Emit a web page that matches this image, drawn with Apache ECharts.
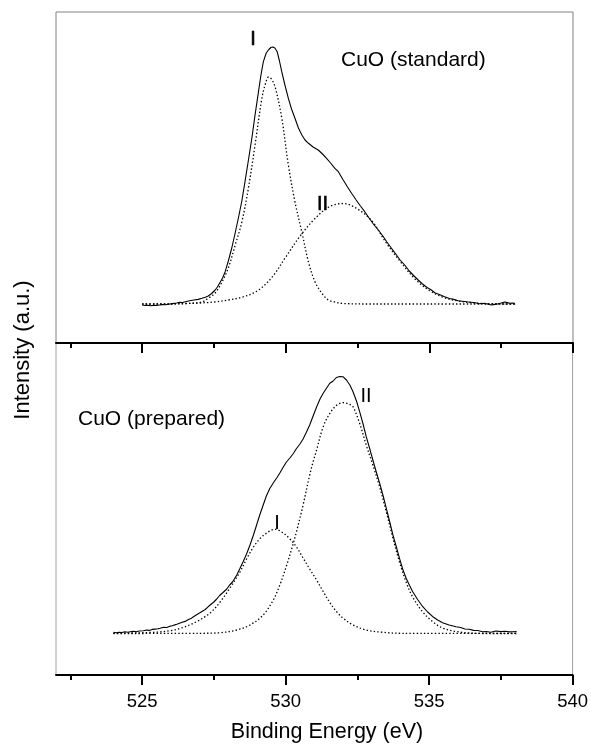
<!DOCTYPE html>
<html>
<head>
<meta charset="utf-8">
<script src="https://cdn.jsdelivr.net/npm/echarts@6/dist/echarts.min.js"></script>
<style>
  html, body { margin: 0; padding: 0; background: #fff; }
  #chart { width: 591px; height: 747px; }
</style>
</head>
<body>
<div id="chart"></div>
<script>
// ---------- data (binding energy in eV, intensity in a.u.) ----------
var majorTicks = [525, 530, 535, 540];
var minorTicks = [522.5, 527.5, 532.5, 537.5];

// Top panel: CuO (standard)
var stdMeasured = [
  [525.00,38],[525.10,37.5],[525.20,37.8],[525.30,37.2],[525.40,37.6],[525.50,37.5],[525.60,38],[525.70,38.4],
  [525.80,38.2],[525.92,38.7],[526.05,39.4],[526.20,40],[526.30,40.8],[526.40,40.5],[526.50,41.3],[526.65,42.2],
  [526.80,43],[526.95,43.6],[527.08,44.7],[527.20,45.8],[527.30,47],[527.42,49.5],[527.54,53],[527.62,56],
  [527.70,60],[527.80,65],[527.89,71.3],[528.00,82],[528.12,95],[528.23,109],[528.35,125],[528.47,142],
  [528.58,161.3],[528.70,183],[528.82,205],[528.93,228],[529.05,251.3],[529.13,267],[529.22,281.3],[529.32,290],
  [529.41,293.5],[529.48,295.5],[529.55,296],[529.62,295],[529.70,291.3],[529.78,282],[529.86,271.3],[529.97,258],
  [530.09,244.7],[530.20,234],[530.32,224.7],[530.44,215],[530.56,208],[530.67,203],[530.79,199.7],[530.95,196],
  [531.13,193],[531.28,189],[531.42,184.7],[531.56,180],[531.71,174.7],[531.83,171.3],[532.00,163],[532.15,156],
  [532.29,149.7],[532.45,143],[532.60,137],[532.75,131.3],[532.90,125],[533.05,119],[533.22,113],[533.38,107],
  [533.52,101],[533.68,94.7],[533.83,89],[533.98,83],[534.14,78],[534.30,72],[534.45,67.5],[534.61,63],
  [534.76,59],[534.92,55.5],[535.07,53],[535.20,50],[535.35,48.5],[535.53,46.3],[535.70,44.5],[535.85,43.6],
  [536.00,42.3],[536.15,41.8],[536.30,41.2],[536.46,40.7],[536.60,40.2],[536.75,39.3],[536.92,39.7],[537.05,38.8],
  [537.16,38],[537.28,38.6],[537.40,39.3],[537.50,40],[537.62,41],[537.72,40.4],[537.80,39.8],[537.90,40],[537.97,39.7]
];
var stdPeakI = [
  [525.00,39],[526.00,39],[526.60,39.5],[527.08,41],[527.31,45],[527.54,50],[527.78,61],[528.00,75],
  [528.24,98],[528.47,121],[528.70,155],[528.93,198],[529.17,245],[529.30,260],[529.40,266],[529.50,264],
  [529.63,256],[529.86,225],[530.09,178],[530.32,141],[530.56,111],[530.79,81],[531.02,61],[531.25,50],
  [531.48,43],[531.71,41],[532.00,39.5],[533.00,39],[538.00,39]
];
var stdPeakII = [
  [525.00,39],[525.50,39],[526.00,39.2],[526.50,39.5],[527.00,40],[527.50,41],[528.00,43],[528.50,46],
  [529.00,52],[529.50,65],[530.00,86],[530.50,107],[531.00,124],[531.50,136],[532.00,139.5],[532.50,134],
  [533.00,122],[533.50,100],[534.00,81],[534.50,64],[535.00,52.5],[535.50,45.5],[536.00,42],[536.50,40.2],
  [537.00,39.3],[537.50,39],[538.00,39]
];

// Bottom panel: CuO (prepared)
var prepMeasured = [
  [524.00,42.7],[524.10,42.2],[524.20,42.8],[524.30,42.5],[524.40,43.3],[524.50,42.8],[524.59,43.3],[524.70,43.8],
  [524.80,43.2],[524.90,44],[525.05,44.3],[525.15,45],[525.25,44.6],[525.35,45.6],[525.45,45.9],[525.55,46.2],
  [525.63,46.7],[525.75,47.8],[525.85,47.5],[525.95,48.6],[526.05,49.2],[526.12,49.9],[526.21,50.7],[526.30,51.7],
  [526.40,52.8],[526.50,53.6],[526.60,55.2],[526.70,56.4],[526.79,58.3],[526.90,60.3],[527.00,62],[527.10,63.8],
  [527.20,65.5],[527.28,67.7],[527.37,70],[527.50,73],[527.60,76],[527.70,79.5],[527.82,82.5],[527.95,86],
  [528.05,90],[528.15,93],[528.30,100],[528.40,106],[528.52,113.3],[528.64,121],[528.76,130],[528.88,140],
  [528.99,150],[529.10,160],[529.22,170],[529.33,179],[529.45,186.5],[529.57,192],[529.69,197],[529.80,202],
  [529.92,208],[530.03,213],[530.15,217],[530.27,221.5],[530.38,226.5],[530.50,231],[530.61,236],[530.72,242.5],
  [530.84,250],[530.96,259],[531.08,268],[531.20,276],[531.31,281.7],[531.43,287],[531.54,291.7],[531.66,294],
  [531.77,297.5],[531.89,298.5],[532.00,298.3],[532.12,295],[532.24,290],[532.35,283.3],[532.47,274],[532.58,263.3],
  [532.70,251],[532.81,238.3],[532.93,226.5],[533.04,215],[533.16,203],[533.28,191.7],[533.40,179],[533.51,166.7],
  [533.63,153],[533.74,140],[533.86,128],[533.97,116.7],[534.08,106],[534.20,96.7],[534.32,89.5],[534.43,83.3],
  [534.60,75.5],[534.78,68.3],[534.95,63],[535.13,58.3],[535.30,55],[535.47,52.3],[535.70,50],[535.94,48.3],
  [536.10,47.5],[536.25,46],[536.40,45.7],[536.55,44.6],[536.70,44.5],[536.86,43.3],[537.00,43.5],[537.15,42.8],
  [537.33,44],[537.50,43.4],[537.65,43.8],[537.80,43.1],[537.91,43.3],[538.05,43.4]
];
var prepPeakI = [
  [524.00,41.7],[524.60,42],[525.40,42.7],[525.98,44.3],[526.44,47.7],[526.91,53.5],[527.37,62],[527.72,73],
  [528.06,87],[528.41,103],[528.64,116],[528.87,127.5],[529.11,136.5],[529.34,142],[529.63,145.7],[529.92,142],
  [530.15,136],[530.38,128],[530.61,117],[530.84,106],[531.08,95],[531.31,83.5],[531.54,72.5],[531.77,63.5],
  [532.00,57],[532.35,50],[532.81,45],[533.39,42.7],[534.08,41.7],[538.05,41.7]
];
var prepPeakII = [
  [524.00,41.5],[527.00,41.7],[527.72,42.3],[528.30,45],[528.76,50],[529.22,60],[529.57,75],[529.80,90],
  [530.04,110],[530.27,131.7],[530.38,143.3],[530.61,170],[530.84,200],[530.96,213.3],[531.08,225],[531.31,248.3],
  [531.55,262],[531.77,269.5],[532.00,272.3],[532.20,271],[532.35,268.3],[532.58,251.7],[532.81,230],[533.04,210],
  [533.28,188],[533.51,163],[533.74,137],[533.97,113],[534.20,93],[534.43,78],[534.78,63],[535.13,53.3],
  [535.47,47],[535.94,43.5],[536.40,42],[537.00,41.5],[538.05,41.5]
];

var xTitle = 'Binding Energy (eV)';
var yTitle = 'Intensity (a.u.)';
var panelNames = ['CuO (standard)', 'CuO (prepared)'];

// ---------- chart ----------
var FONT = '"Liberation Sans", Arial, Helvetica, sans-serif';
var chart = echarts.init(document.getElementById('chart'), null, { renderer: 'canvas' });

function majorAxis(grid, showLabels) {
  return {
    type: 'value', gridIndex: grid, position: 'bottom', min: 522, max: 540,
    axisLine: { show: true, onZero: false, lineStyle: { color: '#000', width: 2 } },
    axisTick: { show: true, inside: false, length: 10, customValues: majorTicks,
                lineStyle: { color: '#000', width: 2 } },
    axisLabel: { show: showLabels, customValues: majorTicks, margin: 17,
                 fontFamily: FONT, fontSize: 18.5, color: '#000' },
    splitLine: { show: false }
  };
}
function minorAxis(grid) {
  return {
    type: 'value', gridIndex: grid, position: 'bottom', offset: 0, min: 522, max: 540,
    axisLine: { show: false },
    axisTick: { show: true, inside: false, length: 5, customValues: minorTicks,
                lineStyle: { color: '#000', width: 2 } },
    axisLabel: { show: false },
    splitLine: { show: false }
  };
}
function line(name, data, xi, yi, dotted) {
  return {
    name: name, type: 'line', data: data, xAxisIndex: xi, yAxisIndex: yi,
    showSymbol: false, symbol: 'none', smooth: dotted ? 0.35 : false,
    lineStyle: dotted ? { color: '#000', width: 1.3, type: [1.4, 2.2] }
                      : { color: '#000', width: 1.1 },
    z: dotted ? 2 : 3
  };
}

chart.setOption({
  animation: false,
  backgroundColor: '#fff',
  grid: [
    { left: 56, right: 18, top: 12, height: 331, show: true, borderColor: '#808080', borderWidth: 1, backgroundColor: 'transparent' },
    { left: 56, right: 18, top: 343, height: 332, show: true, borderColor: '#a0a0a0', borderWidth: 1, backgroundColor: 'transparent' }
  ],
  xAxis: [ majorAxis(0, false), minorAxis(0), majorAxis(1, true), minorAxis(1) ],
  yAxis: [
    { type: 'value', gridIndex: 0, min: 0, max: 331, show: false },
    { type: 'value', gridIndex: 1, min: 0, max: 332, show: false }
  ],
  series: [
    line('standard measured', stdMeasured, 0, 0, false),
    line('standard I', stdPeakI, 0, 0, true),
    line('standard II', stdPeakII, 0, 0, true),
    line('prepared measured', prepMeasured, 2, 1, false),
    line('prepared I', prepPeakI, 2, 1, true),
    line('prepared II', prepPeakII, 2, 1, true)
  ],
  graphic: [
    { type: 'text', x: 341, y: 60, style: { text: panelNames[0], font: '21px ' + FONT, fill: '#000', align: 'left', verticalAlign: 'middle' } },
    { type: 'text', x: 78, y: 419, style: { text: panelNames[1], font: '21px ' + FONT, fill: '#000', align: 'left', verticalAlign: 'middle' } },
    { type: 'text', x: 253, y: 39, style: { text: 'I', font: '20px ' + FONT, fill: '#000', align: 'center', verticalAlign: 'middle', stroke: '#000', lineWidth: 0.6 } },
    { type: 'text', x: 322.5, y: 204, style: { text: 'II', font: '20px ' + FONT, fill: '#000', align: 'center', verticalAlign: 'middle', stroke: '#000', lineWidth: 0.6 } },
    { type: 'text', x: 277, y: 523, style: { text: 'I', font: '20px ' + FONT, fill: '#000', align: 'center', verticalAlign: 'middle' } },
    { type: 'text', x: 366, y: 396, style: { text: 'II', font: '20px ' + FONT, fill: '#000', align: 'center', verticalAlign: 'middle' } },
    { type: 'text', x: 327, y: 732, style: { text: xTitle, font: '21.5px ' + FONT, fill: '#000', align: 'center', verticalAlign: 'middle' } },
    { type: 'text', x: 23, y: 350, rotation: Math.PI / 2, style: { text: yTitle, font: '22px ' + FONT, fill: '#000', align: 'center', verticalAlign: 'middle' } }
  ]
});
</script>
</body>
</html>
